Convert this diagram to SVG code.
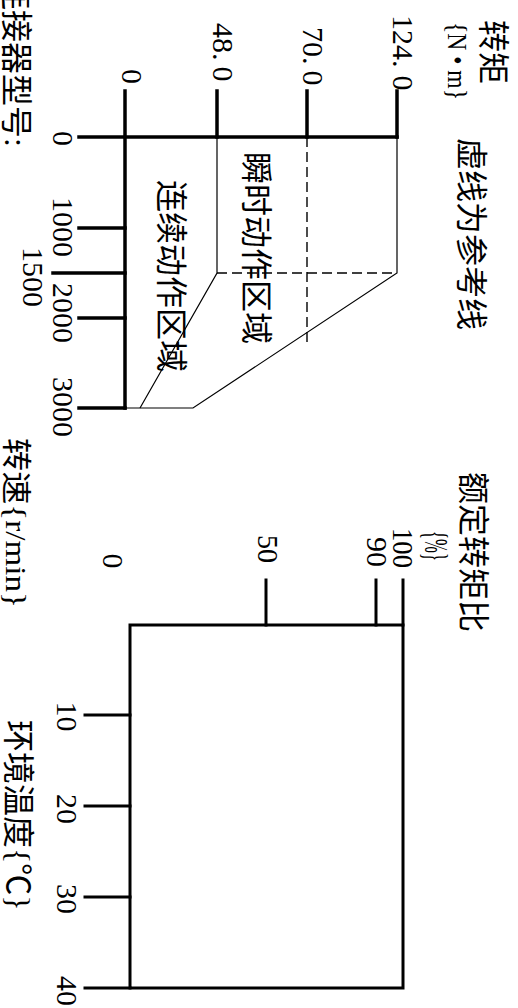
<svg xmlns="http://www.w3.org/2000/svg" width="518" height="1008" viewBox="0 0 518 1008">
<style>
  .ax { stroke: #000; stroke-width: 3.5; fill: none; stroke-linecap: square; }
  .bx { stroke: #000; stroke-width: 3; fill: none; stroke-linecap: square; }
  .thin { stroke: #000; stroke-width: 1.2; fill: none; }
  .dash { stroke: #000; stroke-width: 1.4; fill: none; stroke-dasharray: 10 5; }
  text { font-family: "Liberation Serif", "Noto Sans CJK SC", serif; fill: #000; }
  .num { font-size: 30px; }
  .cjk { font-size: 32px; }
  .mid { text-anchor: middle; }
</style>
<rect width="518" height="1008" fill="#fff"/>
<g transform="translate(518,0) rotate(90)">
  <g id="torque-chart">
    <g id="torque-axes">
      <line class="ax" x1="91" y1="393" x2="408" y2="393"/>
      <line class="ax" x1="137" y1="439" x2="137" y2="121"/>
      <line class="ax" x1="91" y1="301" x2="137" y2="301"/>
      <line class="ax" x1="91" y1="211" x2="137" y2="211"/>
      <line class="ax" x1="91" y1="121" x2="137" y2="121"/>
      <line class="ax" x1="228" y1="393" x2="228" y2="439"/>
      <line class="ax" x1="273" y1="393" x2="273" y2="465"/>
      <line class="ax" x1="318" y1="393" x2="318" y2="439"/>
      <line class="ax" x1="408" y1="393" x2="408" y2="439"/>
    </g>
    <g id="regions">
      <polyline class="thin" points="137,121 273,121 408,325 408,393"/>
      <polyline class="thin" points="137,301 273,301 408,378"/>
      <line class="dash" x1="273" y1="301" x2="273" y2="121"/>
      <line class="dash" x1="137" y1="211" x2="342" y2="211"/>
    </g>
    <g id="torque-labels">
      <text class="cjk" x="20" y="36" font-size="30">转矩</text>
      <text x="22" y="70" font-size="28" textLength="78" lengthAdjust="spacingAndGlyphs">{N • m}</text>
      <text class="cjk" x="138" y="58">虚线为参考线</text>
      <text class="num" x="15" y="125" font-size="31">124.<tspan dx="8">0</tspan></text>
      <text class="num" x="27" y="215" font-size="31">70.<tspan dx="6">0</tspan></text>
      <text class="num" x="23" y="305" font-size="31">48.<tspan dx="6">0</tspan></text>
      <text class="num mid" x="76.5" y="396" font-size="32">0</text>
      <text class="num mid" x="138.5" y="465">0</text>
      <text class="num mid" x="227" y="465">1000</text>
      <text class="num mid" x="277" y="495">1500</text>
      <text class="num mid" x="313" y="465">2000</text>
      <text class="num mid" x="407" y="465">3000</text>
      <text class="cjk" x="152" y="273">瞬时动作区域</text>
      <text class="cjk" x="180" y="358">连续动作区域</text>
      <text class="cjk" x="-22" y="513">连接器型号:</text>
      <text x="438" y="512" font-size="30" textLength="170" lengthAdjust="spacingAndGlyphs">转速{r/min}</text>
    </g>
  </g>
  <g id="derating-chart">
    <g id="derating-axes">
      <rect class="bx" x="625" y="115" width="363" height="273"/>
      <line class="bx" x1="580" y1="252" x2="625" y2="252"/>
      <line class="bx" x1="580" y1="142" x2="625" y2="142"/>
      <line class="bx" x1="580" y1="115" x2="625" y2="115"/>
      <line class="bx" x1="715" y1="388" x2="715" y2="433"/>
      <line class="bx" x1="806" y1="388" x2="806" y2="433"/>
      <line class="bx" x1="897" y1="388" x2="897" y2="433"/>
      <line class="bx" x1="988" y1="388" x2="988" y2="433"/>
    </g>
    <g id="derating-labels">
      <text class="cjk" x="472" y="56">额定转矩比</text>
      <text x="531" y="93" font-size="34" textLength="30" lengthAdjust="spacingAndGlyphs">{%}</text>
      <text class="num" x="528" y="125" textLength="40" lengthAdjust="spacingAndGlyphs">100</text>
      <text class="num" x="537" y="151" textLength="30" lengthAdjust="spacingAndGlyphs">90</text>
      <text class="num" x="535" y="260" textLength="28" lengthAdjust="spacingAndGlyphs">50</text>
      <text class="num mid" x="561" y="415">0</text>
      <text class="num mid" x="716.5" y="461">10</text>
      <text class="num mid" x="809" y="461">20</text>
      <text class="num mid" x="899" y="461">30</text>
      <text class="num mid" x="991" y="461">40</text>
      <text class="cjk" x="720" y="511">环境温度{℃}</text>
    </g>
  </g>
</g>
</svg>
